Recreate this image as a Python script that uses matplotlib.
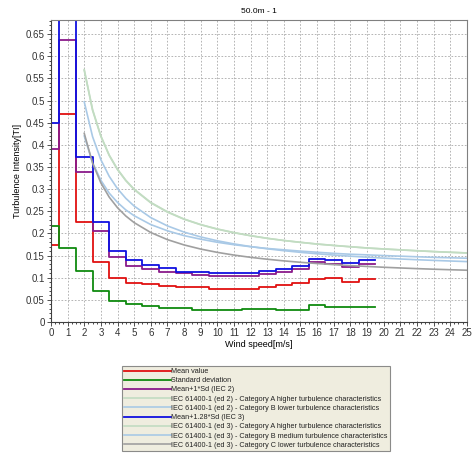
import matplotlib
matplotlib.use("Agg")
import matplotlib.pyplot as plt
import numpy as np
from matplotlib.ticker import MultipleLocator

plt.rcParams["font.family"] = ["Liberation Sans", "DejaVu Sans"]

# binned turbulence intensity, bins centred on 0..19 m/s
bin_centres = list(range(20))
mean_ti = [0.173, 0.469, 0.225, 0.136, 0.100, 0.088, 0.085, 0.082, 0.079, 0.079,
           0.0755, 0.0755, 0.0755, 0.079, 0.0845, 0.089, 0.096, 0.0995, 0.0905, 0.098]
std_ti = [0.217, 0.168, 0.115, 0.070, 0.048, 0.040, 0.035, 0.032, 0.032, 0.028,
          0.028, 0.028, 0.0285, 0.030, 0.026, 0.028, 0.038, 0.033, 0.034, 0.033]
mean_1sd = [0.390, 0.637, 0.339, 0.206, 0.147, 0.127, 0.120, 0.114, 0.110, 0.105,
            0.1035, 0.1035, 0.1035, 0.108, 0.112, 0.120, 0.136, 0.132, 0.124, 0.130]
mean_128sd = [0.450, 0.684, 0.372, 0.225, 0.161, 0.139, 0.129, 0.123, 0.114, 0.112,
              0.111, 0.111, 0.111, 0.116, 0.120, 0.127, 0.143, 0.141, 0.134, 0.140]

# IEC reference curves
iec_ws = [2, 2.5, 3, 3.5, 4, 4.5, 5, 6, 7, 8, 9, 10, 11, 12, 13, 14, 15, 16,
          17, 18, 19, 20, 21, 22, 23, 24, 25]
ed2_a = [0.570, 0.480, 0.420, 0.377, 0.345, 0.320, 0.300, 0.270, 0.249, 0.2325,
         0.220, 0.210, 0.202, 0.195, 0.189, 0.184, 0.180, 0.176, 0.173, 0.170,
         0.167, 0.165, 0.163, 0.161, 0.159, 0.1575, 0.156]
ed2_b = [0.420, 0.360, 0.320, 0.291, 0.270, 0.253, 0.240, 0.220, 0.206, 0.195,
         0.187, 0.180, 0.1745, 0.170, 0.166, 0.163, 0.160, 0.1575, 0.155, 0.153,
         0.1516, 0.150, 0.1486, 0.1473, 0.146, 0.145, 0.144]
ed3_a = [0.568, 0.478, 0.419, 0.376, 0.344, 0.319, 0.299, 0.269, 0.248, 0.232,
         0.2196, 0.2096, 0.2015, 0.1947, 0.1889, 0.184, 0.1797, 0.176, 0.1727,
         0.1698, 0.1672, 0.1648, 0.1627, 0.1607, 0.159, 0.1573, 0.1558]
ed3_b = [0.497, 0.4186, 0.3663, 0.329, 0.301, 0.2792, 0.2618, 0.2357, 0.217, 0.203,
         0.1921, 0.1834, 0.1763, 0.1703, 0.1653, 0.161, 0.1573, 0.154, 0.1511,
         0.1486, 0.1463, 0.1442, 0.1423, 0.1406, 0.1391, 0.1377, 0.1364]
ed3_c = [0.426, 0.3588, 0.314, 0.282, 0.258, 0.2393, 0.2244, 0.202, 0.186, 0.174,
         0.1647, 0.1572, 0.1511, 0.146, 0.1417, 0.138, 0.1348, 0.132, 0.1295,
         0.1273, 0.1254, 0.1236, 0.122, 0.1205, 0.1192, 0.118, 0.1169]

# step edges: first bin starts at 0, others at centre - 0.5
edges = np.r_[0.0, np.array(bin_centres[1:]) - 0.5, bin_centres[-1] + 0.5]


def step(ax, vals, **kw):
    ax.plot(edges, list(vals) + [vals[-1]], drawstyle="steps-post", **kw)


fig = plt.figure(figsize=(4.72, 4.59), dpi=100)
ax = fig.add_axes([0.108, 0.2985, 0.881, 0.658])

lgreen = "#c2dcc2"
lblue = "#a9c9e6"
grey = "#a0a0a0"

step(ax, mean_ti, color="#e01010", lw=1.3, label="Mean value")
step(ax, std_ti, color="#0f8a0f", lw=1.3, label="Standard deviation")
step(ax, mean_1sd, color="#8a1a8a", lw=1.3, label="Mean+1*Sd (IEC 2)")
ax.plot(iec_ws, ed2_a, color=lgreen, lw=1.2,
        label="IEC 61400-1 (ed 2) - Category A higher turbulence characteristics")
ax.plot(iec_ws, ed2_b, color=lblue, lw=1.2,
        label="IEC 61400-1 (ed 2) - Category B lower turbulence characteristics")
step(ax, mean_128sd, color="#1010e0", lw=1.3, label="Mean+1.28*Sd (IEC 3)")
ax.plot(iec_ws, ed3_a, color=lgreen, lw=1.2,
        label="IEC 61400-1 (ed 3) - Category A higher turbulence characteristics")
ax.plot(iec_ws, ed3_b, color=lblue, lw=1.2,
        label="IEC 61400-1 (ed 3) - Category B medium turbulence characteristics")
ax.plot(iec_ws, ed3_c, color=grey, lw=1.2,
        label="IEC 61400-1 (ed 3) - Category C lower turbulence characteristics")

ax.set_xlim(0, 25)
ax.set_ylim(0, 0.682)
ax.xaxis.set_major_locator(MultipleLocator(1))
ax.xaxis.set_minor_locator(MultipleLocator(0.25))
ax.yaxis.set_major_locator(MultipleLocator(0.05))
ax.yaxis.set_minor_locator(MultipleLocator(0.01))
ax.set_yticklabels([f"{v:g}" for v in ax.get_yticks()])
ax.tick_params(labelsize=7, length=3, width=0.6, pad=1.5, colors="#333333")
ax.tick_params(which="minor", length=1.5, width=0.5)
ax.grid(True, which="major", color="#a8a8a8", lw=0.6, ls=(0, (2, 2)))
ax.set_axisbelow(True)
for s in ax.spines.values():
    s.set_color("#808080")
    s.set_linewidth(0.8)
ax.spines["left"].set_color("#404040")
ax.spines["bottom"].set_color("#404040")

ax.set_xlabel("Wind speed[m/s]", fontsize=6.5, labelpad=1)
ax.set_ylabel("Turbulence Intensity[TI]", fontsize=6.5, labelpad=3)
ax.set_title("50.0m - 1", fontsize=6, pad=5)

leg = fig.legend(loc="upper left", bbox_to_anchor=(0.259, 0.203), fontsize=5.2,
                 frameon=True, fancybox=False, handlelength=6.4, handletextpad=0.1,
                 labelspacing=0.3, borderpad=0.3, borderaxespad=0)
leg.get_frame().set_facecolor("#ece9d8")
leg.get_frame().set_edgecolor("#707070")
leg.get_frame().set_linewidth(0.8)
for t in leg.get_texts():
    t.set_color("#222222")

fig.savefig("out.png", dpi=100)
